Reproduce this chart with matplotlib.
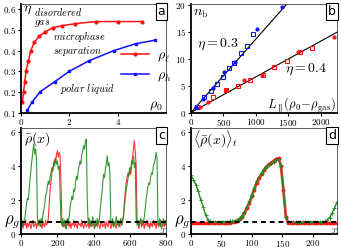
import numpy as np
import matplotlib
matplotlib.use("Agg")
import matplotlib.pyplot as plt
from matplotlib.ticker import FuncFormatter

plt.rcParams['mathtext.fontset'] = 'cm'
plt.rcParams['font.family'] = 'DejaVu Serif'

# ---- panel a: phase diagram
rho_l = [0.05, 0.1, 0.15, 0.2, 0.3, 0.4, 0.55, 0.75, 1.0, 1.3, 1.7, 2.25, 3.1, 4.0, 5.0]
eta_l = [0.15, 0.2, 0.25, 0.3, 0.35, 0.4, 0.44, 0.47, 0.49, 0.51, 0.52, 0.53, 0.54, 0.54, 0.54]
rho_h = [0.25, 0.45, 0.78, 1.4, 2.0, 2.8, 3.85, 4.75, 5.55]
eta_h = [0.11, 0.15, 0.2, 0.25, 0.3, 0.35, 0.4, 0.433, 0.45]

# ---- panel b: number of bands
b03_sq_x = [98, 206, 303, 396, 488, 581, 668, 771, 864, 961]
b03_sq_y = [1.1, 2.9, 3.9, 5.2, 6.6, 8.2, 9.1, 11.0, 12.4, 14.5]
b03_dot_x = [77, 180, 344, 509, 679, 1013, 1400]
b03_dot_y = [1.1, 2.6, 4.6, 7.5, 9.3, 15.5, 19.6]
b04_sq_x = [344, 540, 730, 910, 1105, 1285, 1475, 1681, 1861]
b04_sq_y = [2.9, 4.1, 5.0, 6.1, 6.9, 8.5, 9.6, 11.2, 12.0]
b04_dot_x = [139, 267, 540, 817, 1100, 1645, 2205]
b04_dot_y = [1.1, 2.0, 4.2, 6.0, 6.9, 11.2, 14.0]
fit03_x = [0, 1500]
fit03_y = [0, 20.4]
fit04_x = [0, 2300]
fit04_y = [0, 15.2]

# ---- panel c: density snapshots, sampled every 5 sites
dx_c = 5
snap_green = [
    0.5, 0.8, 0.4, 0.7, 0.9, 1.3, 1.8, 2.1, 2.0, 2.7,
    3.3, 3.9, 4.4, 4.9, 5.3, 4.7, 5.0, 4.4, 0.9, 0.5,
    0.8, 0.5, 0.9, 0.6, 1.1, 1.4, 1.7, 2.2, 2.4, 2.8,
    3.1, 2.9, 3.4, 3.6, 3.9, 3.7, 4.2, 4.0, 4.5, 4.1,
    4.3, 3.8, 4.0, 2.5, 0.7, 0.5, 0.9, 0.4, 0.8, 0.6,
    0.3, 0.9, 0.6, 1.0, 1.5, 1.9, 2.2, 2.0, 2.6, 2.5,
    3.0, 3.4, 3.2, 3.7, 4.0, 4.3, 4.1, 4.7, 4.9, 5.2,
    5.0, 5.5, 5.6, 2.0, 0.6, 0.9, 0.4, 0.7, 0.5, 1.0,
    0.6, 0.3, 0.8, 0.5, 0.9, 0.6, 0.7, 1.2, 1.8, 2.3,
    2.9, 3.5, 3.3, 3.8, 4.1, 4.6, 4.0, 4.2, 3.5, 0.8,
    0.5, 0.9, 0.4, 0.7, 0.6, 1.0, 0.5, 0.8, 0.4, 0.7,
    0.9, 0.5, 0.8, 1.1, 1.6, 2.1, 2.6, 2.9, 3.3, 3.6,
    3.9, 3.7, 4.3, 4.1, 4.6, 3.9, 4.2, 0.9, 0.5, 0.8,
    0.4, 0.7, 0.9, 0.5, 0.8, 0.6, 1.0, 1.5, 2.0, 2.4,
    2.8, 3.0, 2.9, 3.4, 3.6, 3.5, 4.0, 4.2, 4.4, 4.8,
    4.5, 0.8, 0.5, 0.9, 0.4, 0.7, 0.6, 0.9, 0.5, 0.8,
    0.6]
snap_red = [
    0.4, 0.7, 0.3, 0.6, 0.5, 0.8, 0.3, 0.6, 0.4, 0.7,
    0.5, 0.3, 0.6, 0.8, 0.4, 0.5, 0.7, 0.3, 0.6, 0.5,
    0.8, 0.4, 0.6, 0.3, 0.7, 0.5, 0.4, 0.8, 0.5, 0.6,
    0.9, 1.8, 2.6, 3.1, 3.6, 3.9, 4.1, 4.4, 4.2, 4.7,
    4.9, 4.5, 4.8, 4.6, 3.0, 0.6, 0.4, 0.7, 0.5, 0.3,
    0.8, 0.5, 0.6, 0.4, 0.7, 0.3, 0.6, 0.5, 0.8, 0.4,
    0.6, 0.5, 0.3, 0.7, 0.5, 0.6, 0.4, 0.8, 0.5, 0.3,
    0.6, 0.7, 0.4, 0.5, 0.6, 0.3, 0.8, 0.5, 0.4, 0.6,
    0.7, 0.3, 0.5, 0.6, 0.4, 0.8, 0.5, 0.3, 0.6, 0.7,
    0.4, 0.5, 0.6, 0.3, 0.7, 0.5, 0.4, 0.8, 0.6, 0.3,
    0.5, 0.7, 0.4, 0.6, 0.5, 0.3, 0.7, 0.5, 0.6, 0.4,
    0.8, 0.5, 0.7, 1.0, 1.9, 2.5, 3.0, 3.3, 3.6, 3.4,
    3.8, 3.5, 4.2, 4.5, 5.0, 5.5, 4.8, 4.0, 0.7, 0.5,
    0.3, 0.6, 0.8, 0.4, 0.5, 0.7, 0.3, 0.6, 0.5, 0.8,
    0.4, 0.6, 0.3, 0.7, 0.5, 0.4, 0.8, 0.5, 0.6, 0.3,
    0.7, 0.5, 0.4, 0.6, 0.8, 0.3, 0.5, 0.7, 0.4, 0.6,
    0.5]
rho_gas = 0.67

# ---- panel d: time averaged profiles, sampled every 4 sites
dx_d = 4
avg_green = [3.45, 3.2, 2.9, 2.5, 2.0, 1.6, 1.1, 0.8, 0.72, 0.7,
             0.7, 0.7, 0.7, 0.7, 0.7, 0.71, 0.72, 0.73, 0.75, 0.8,
             0.9, 1.05, 1.3, 1.6, 1.9, 2.3, 2.7, 3.1, 3.35, 3.6,
             3.8, 3.95, 4.05, 4.15, 4.25, 4.35, 4.4, 4.0, 2.6, 1.0,
             0.68, 0.68, 0.68, 0.68, 0.68, 0.68, 0.68, 0.68, 0.69, 0.7,
             0.7, 0.7, 0.7, 0.7, 0.7, 0.72, 0.8, 0.95, 1.2, 1.5,
             1.85]
avg_red = [0.6, 0.6, 0.6, 0.6, 0.6, 0.6, 0.6, 0.61, 0.62, 0.62,
           0.62, 0.62, 0.62, 0.62, 0.62, 0.63, 0.64, 0.66, 0.7, 0.75,
           0.85, 1.0, 1.2, 1.5, 1.8, 2.2, 2.6, 3.0, 3.3, 3.5,
           3.75, 3.95, 4.1, 4.2, 4.3, 4.42, 4.45, 4.0, 2.6, 1.0,
           0.62, 0.62, 0.62, 0.62, 0.62, 0.62, 0.62, 0.62, 0.62, 0.62,
           0.62, 0.62, 0.62, 0.62, 0.62, 0.62, 0.62, 0.62, 0.62, 0.62,
           0.62]

RED = '#ff1010'
BLUE = '#1010ff'
GREEN = '#1e8c1e'


def style(ax):
    for s in ['left', 'bottom']:
        ax.spines[s].set_linewidth(1.3)
    for s in ['top', 'right']:
        ax.spines[s].set_linewidth(0.6)
        ax.spines[s].set_color('#444444')
    ax.tick_params(direction='out', length=2.5, width=0.8, labelsize=6.5, pad=1,
                   top=False, right=False)
    fmt = FuncFormatter(lambda v, p: f'${v:g}$')
    ax.xaxis.set_major_formatter(fmt)
    ax.yaxis.set_major_formatter(fmt)


def panel_label(ax, s):
    ax.text(0.995, 0.99, s, transform=ax.transAxes, ha='right', va='top',
            fontsize=9, family='DejaVu Sans',
            bbox=dict(boxstyle='square,pad=0.15', fc='white', ec='black', lw=0.8))


fig = plt.figure(figsize=(3.41, 2.49), dpi=100)
ax_a = fig.add_axes([0.062, 0.548, 0.425, 0.436])
ax_b = fig.add_axes([0.560, 0.548, 0.428, 0.436])
ax_c = fig.add_axes([0.062, 0.062, 0.425, 0.424])
ax_d = fig.add_axes([0.560, 0.062, 0.428, 0.424])

# a
ax_a.plot(rho_l, eta_l, '-o', color=RED, lw=1.1, ms=2, label=r'$\rho_\ell$')
ax_a.plot(rho_h, eta_h, '-s', color=BLUE, lw=1.1, ms=2, label=r'$\rho_h$')
ax_a.set_xlim(0, 6)
ax_a.set_ylim(0.1, 0.625)
ax_a.set_xticks([0, 2, 4])
ax_a.set_yticks([0.1, 0.2, 0.3, 0.4, 0.5, 0.6])
style(ax_a)
ax_a.legend(loc='lower left', bbox_to_anchor=(0.64, 0.2), frameon=False,
            fontsize=10, handlelength=2.0, labelspacing=0.3, borderpad=0,
            handletextpad=0.6)
ax_a.text(0.08, 0.59, r'$\eta$', fontsize=10)
ax_a.text(0.55, 0.558, r'$\mathit{disordered}$' + '\n' + r'$\mathit{gas}$',
          fontsize=7.2, va='center', linespacing=1.0)
ax_a.text(1.3, 0.434, r'$\mathit{microphase}$' + '\n' + r'$\mathit{separation}$',
          fontsize=7.2, va='center', linespacing=1.0)
ax_a.text(1.6, 0.215, r'$\mathit{polar\ liquid}$', fontsize=7.5, va='center')
ax_a.text(5.3, 0.13, r'$\rho_0$', fontsize=10, va='center')
panel_label(ax_a, 'a')

# b
ax_b.plot(fit03_x, fit03_y, color='black', lw=0.8)
ax_b.plot(fit04_x, fit04_y, color='black', lw=0.8)
ax_b.plot(b03_sq_x, b03_sq_y, 's', mfc='none', mec=BLUE, ms=3.5, mew=0.8)
ax_b.plot(b03_dot_x, b03_dot_y, 'o', color=BLUE, ms=2)
ax_b.plot(b04_sq_x, b04_sq_y, 's', mfc='none', mec=RED, ms=3.5, mew=0.8)
ax_b.plot(b04_dot_x, b04_dot_y, 'o', color=RED, ms=2)
ax_b.set_xlim(0, 2250)
ax_b.set_ylim(0, 20.1)
ax_b.set_xticks([0, 500, 1000, 1500, 2000])
ax_b.set_yticks([0, 5, 10, 15, 20])
style(ax_b)
ax_b.text(35, 18.5, r'$n_{\rm b}$', fontsize=10, va='center')
ax_b.text(90, 12.6, r'$\eta=0.3$', fontsize=10, va='center')
ax_b.text(1450, 8.0, r'$\eta=0.4$', fontsize=10, va='center')
ax_b.text(2230, 1.35, r'$L_{\parallel}(\rho_0\!-\!\rho_{\rm gas})$', fontsize=9,
          ha='right', va='center')
panel_label(ax_b, 'b')

# c
xc_g = np.arange(len(snap_green)) * dx_c
xc_r = np.arange(len(snap_red)) * dx_c
ax_c.plot(xc_r, snap_red, color=RED, lw=0.8, alpha=0.85)
ax_c.plot(xc_g, snap_green, color=GREEN, lw=0.8, alpha=0.9)
ax_c.axhline(rho_gas, color='black', ls=(0, (2.5, 2)), lw=1.4, zorder=5)
ax_c.set_xlim(0, 800)
ax_c.set_ylim(0, 6.25)
ax_c.set_xticks([0, 200, 400, 600, 800])
ax_c.set_yticks([0, 2, 4, 6])
style(ax_c)
ax_c.text(15, 5.6, r'$\bar{\rho}(x)$', fontsize=10, va='center')
ax_c.text(-0.115, rho_gas, r'$\rho_g$', fontsize=12, va='center',
          transform=ax_c.get_yaxis_transform())
ax_c.text(760, 0.2, r'$x$', fontsize=9, va='center', color='#555555')
panel_label(ax_c, 'c')

# d
xd_g = np.arange(len(avg_green)) * dx_d
xd_r = np.arange(len(avg_red)) * dx_d
ax_d.plot(xd_r, avg_red, '-o', color=RED, lw=2.0, ms=1.8, alpha=0.85)
ax_d.plot(xd_g, avg_green, '-+', color=GREEN, lw=1.0, ms=2.5, mew=0.6)
ax_d.axhline(rho_gas, color='black', ls=(0, (2.5, 2)), lw=1.4, zorder=5)
ax_d.set_xlim(0, 240)
ax_d.set_ylim(0, 6.25)
ax_d.set_xticks([0, 50, 100, 150, 200])
ax_d.set_yticks([0, 2, 4, 6])
style(ax_d)
ax_d.text(4, 5.6, r'$\langle\bar{\rho}(x)\rangle_t$', fontsize=10, va='center')
ax_d.text(-0.115, rho_gas, r'$\rho_g$', fontsize=12, va='center',
          transform=ax_d.get_yaxis_transform())
ax_d.text(228, 0.2, r'$x$', fontsize=9, va='center', color='#555555')
panel_label(ax_d, 'd')

fig.savefig('out.png', dpi=100)
